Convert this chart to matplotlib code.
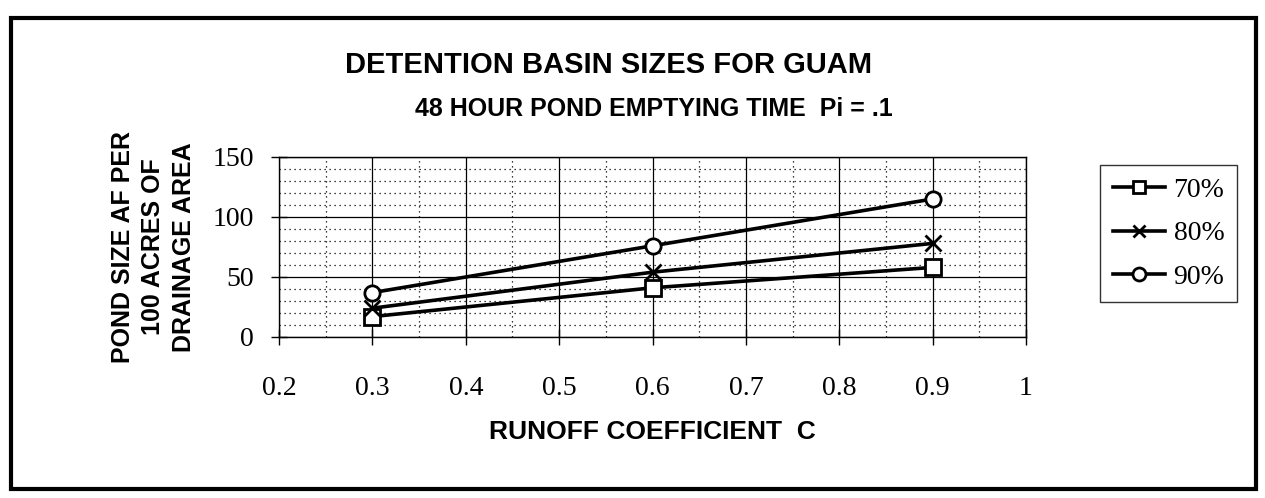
import numpy as np
import matplotlib.pyplot as plt
from matplotlib.patches import Rectangle
from matplotlib.ticker import MultipleLocator

# runoff coefficient C and pond size (AF per 100 acres) per series
runoff = [0.3, 0.6, 0.9]
size70 = [17, 41, 58]
size80 = [24, 54, 78]
size90 = [37, 76, 115]
labels = ["70%", "80%", "90%"]
xticks = [0.2, 0.3, 0.4, 0.5, 0.6, 0.7, 0.8, 0.9, 1.0]
xticklabels = ["0.2", "0.3", "0.4", "0.5", "0.6", "0.7", "0.8", "0.9", "1"]
yticks = [0, 50, 100, 150]

serif = "Liberation Serif"
sans = "Liberation Sans"
W, H = 1265, 498

fig = plt.figure(figsize=(12.65, 4.98), dpi=100)
ax = fig.add_axes([279 / W, 161 / H, 747 / W, 180 / H])

kw = dict(color="black", lw=2.6, markersize=11, markeredgewidth=2,
          markerfacecolor="white", markeredgecolor="black")
ax.plot(runoff, size70, marker="s", label=labels[0], **kw)
ax.plot(runoff, size80, marker="x", label=labels[1], **kw)
ax.plot(runoff, size90, marker="o", label=labels[2], **kw)

ax.set_xticks(xticks)
ax.set_xticklabels(xticklabels)
ax.set_yticks(yticks)
ax.xaxis.set_minor_locator(MultipleLocator(0.05))
ax.yaxis.set_minor_locator(MultipleLocator(10))
ax.set_xlim(0.2, 1.0)
ax.set_ylim(0, 150)
ax.grid(which="major", color="black", lw=0.9, ls="-")
ax.grid(which="minor", color="black", lw=0.9, ls=(0, (1, 3)))
ax.tick_params(which="major", direction="inout", length=12, width=1, labelsize=20)
ax.tick_params(axis="x", pad=22)
ax.tick_params(axis="y", pad=12)
ax.tick_params(which="minor", length=0)
for lab in ax.get_xticklabels() + ax.get_yticklabels():
    lab.set_fontfamily(serif)
for sp in ax.spines.values():
    sp.set_linewidth(1.0)

ax.set_xlabel("RUNOFF COEFFICIENT  C", fontfamily=sans, fontweight="bold",
              fontsize=19, labelpad=14)
ax.set_ylabel("POND SIZE AF PER\n100 ACRES OF\nDRAINAGE AREA", fontfamily=sans,
              fontweight="bold", fontsize=18, labelpad=12, linespacing=1.35)

leg = ax.legend(loc="upper left", bbox_to_anchor=(1100 / W, 1 - 165 / H),
                bbox_transform=fig.transFigure, borderaxespad=0, frameon=True,
                fancybox=False, edgecolor="black", prop={"family": serif, "size": 20},
                handlelength=1.9, handletextpad=0.3, labelspacing=0.65,
                borderpad=0.45, markerscale=0.85)
leg.get_frame().set_linewidth(1.0)

fig.text(0.481, 1 - 65 / H, "DETENTION BASIN SIZES FOR GUAM", ha="center", va="center",
         fontfamily=sans, fontweight="bold", fontsize=21)
fig.text(0.517, 1 - 109 / H, "48 HOUR POND EMPTYING TIME  Pi = .1", ha="center",
         va="center", fontfamily=sans, fontweight="bold", fontsize=18)

fig.patches.append(Rectangle((11 / W, 9 / H), 1245 / W, 471 / H,
                             transform=fig.transFigure, fill=False,
                             edgecolor="black", lw=3))

fig.savefig("out.png", dpi=100)
